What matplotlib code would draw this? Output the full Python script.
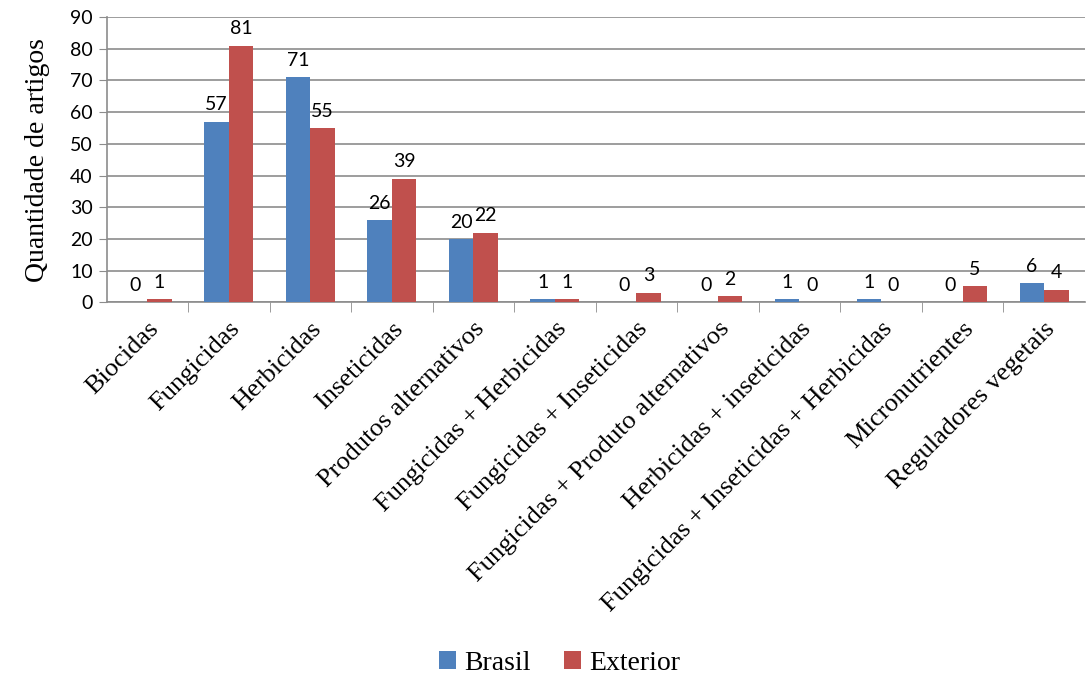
import numpy as np
import matplotlib.pyplot as plt
from matplotlib.ticker import FixedLocator

# dados do gráfico
categorias = ['Biocidas', 'Fungicidas', 'Herbicidas', 'Inseticidas',
              'Produtos alternativos', 'Fungicidas + Herbicidas',
              'Fungicidas + Inseticidas', 'Fungicidas + Produto alternativos',
              'Herbicidas + inseticidas', 'Fungicidas + Inseticidas + Herbicidas',
              'Micronutrientes', 'Reguladores vegetais']
brasil = [0, 57, 71, 26, 20, 1, 0, 0, 1, 1, 0, 6]
exterior = [1, 81, 55, 39, 22, 1, 3, 2, 0, 0, 5, 4]
yticks = [0, 10, 20, 30, 40, 50, 60, 70, 80, 90]

azul = '#4F81BD'
vermelho = '#C0504D'
serif = ['Liberation Serif', 'DejaVu Serif']
sans = ['Lato', 'DejaVu Sans']

fig = plt.figure(figsize=(10.87, 6.84), dpi=100)
ax = fig.add_axes([0.098, 0.558, 0.9, 0.417])

x = np.arange(len(categorias))
w = 0.3
b1 = ax.bar(x - w / 2, brasil, w, color=azul, label='Brasil', zorder=3)
b2 = ax.bar(x + w / 2, exterior, w, color=vermelho, label='Exterior', zorder=3)

for bars, vals in ((b1, brasil), (b2, exterior)):
    for r, v in zip(bars, vals):
        ax.annotate(str(v), (r.get_x() + r.get_width() / 2, v),
                    xytext=(0, 6), textcoords='offset points',
                    ha='center', va='bottom', fontsize=14,
                    family=sans, color='black')

ax.set_xlim(-0.5, len(categorias) - 0.5)
ax.set_ylim(0, 90)
ax.set_yticks(yticks)
ax.set_yticklabels([str(t) for t in yticks], family=sans, fontsize=14)
ax.yaxis.grid(True, color='#8c8c8c', lw=1.2, zorder=0)
ax.tick_params(axis='y', length=6, color='#8c8c8c', pad=4)

ax.set_xticks(x)
ax.set_xticklabels(categorias, rotation=45, ha='right', rotation_mode='anchor',
                   family=serif, fontsize=19)
ax.tick_params(axis='x', which='major', length=0, pad=11)
ax.xaxis.set_minor_locator(FixedLocator(np.arange(0.5, len(categorias) - 0.5, 1)))
ax.tick_params(axis='x', which='minor', length=7, color='#8c8c8c')

for s in ('top', 'right'):
    ax.spines[s].set_visible(False)
for s in ('left', 'bottom'):
    ax.spines[s].set_color('#8c8c8c')
    ax.spines[s].set_linewidth(1.2)

ax.set_ylabel('Quantidade de artigos', family=serif, fontsize=20, labelpad=14)

fig.legend(handles=[b1, b2], labels=['Brasil', 'Exterior'], loc='lower center',
           bbox_to_anchor=(0.515, -0.025), ncol=2, frameon=False,
           prop={'family': serif, 'size': 20}, handlelength=0.6,
           handleheight=0.6, handletextpad=0.3, columnspacing=1.2)

fig.savefig('out.png', dpi=100)
